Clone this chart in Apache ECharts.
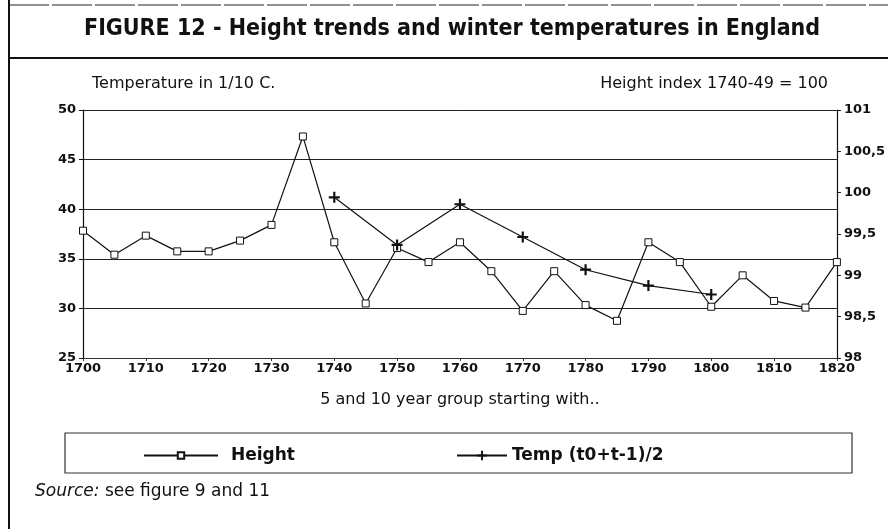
<!DOCTYPE html>
<html>
<head>
<meta charset="utf-8">
<script src="https://cdn.jsdelivr.net/npm/echarts@6/dist/echarts.min.js"></script>
<style>
html,body{margin:0;padding:0;background:#fff;}
#c{width:888px;height:529px;}
</style>
</head>
<body>
<div id="c"></div>
<script>
// ---- data ----
var heightYears = [1700,1705,1710,1715,1720,1725,1730,1735,1740,1745,1750,1755,1760,1765,1770,1775,1780,1785,1790,1795,1800,1805,1810,1815,1820];
var heightIndex = [99.54,99.25,99.48,99.29,99.29,99.42,99.61,100.68,99.40,98.66,99.33,99.16,99.40,99.05,98.57,99.05,98.64,98.45,99.40,99.16,98.62,99.00,98.69,98.61,99.16];
var tempYears = [1740,1750,1760,1770,1780,1790,1800];
var tempValues = [41.2,36.4,40.5,37.2,33.9,32.3,31.4];
var titleText = 'FIGURE 12 - Height trends and winter temperatures in England';
var leftAxisTitle = 'Temperature in 1/10 C.';
var rightAxisTitle = 'Height index 1740-49 = 100';
var xAxisTitle = '5 and 10 year group starting with..';
var seriesNames = ['Height', 'Temp (t0+t-1)/2'];

var heightData = heightYears.map(function(y,i){return [y, heightIndex[i]];});
var tempData = tempYears.map(function(y,i){return [y, tempValues[i]];});

var REG = '"DejaVu Sans", sans-serif';
var BOLD = '"DejaVu Sans", sans-serif';
var PLUS = 'path://M4,0H6V4H10V6H6V10H4V6H0V4H4Z';

var chart = echarts.init(document.getElementById('c'), null, {renderer:'canvas'});
chart.setOption({
  backgroundColor:'#fff',
  animation:false,
  grid:{left:83, right:50, top:110, bottom:171, containLabel:false},
  xAxis:{
    type:'value', min:1700, max:1820, interval:10,
    name:xAxisTitle, nameLocation:'middle', nameGap:34,
    nameTextStyle:{fontFamily:REG, fontSize:16, color:'#111'},
    axisLine:{show:true, lineStyle:{color:'#333', width:1}},
    axisTick:{show:true, length:3, lineStyle:{color:'#333'}},
    axisLabel:{fontFamily:BOLD, fontWeight:'bold', fontSize:13, color:'#111', margin:4,
      formatter:function(v){return String(v);}},
    splitLine:{show:false}
  },
  yAxis:[{
    type:'value', min:25, max:50, interval:5, position:'left',
    axisLine:{show:true, lineStyle:{color:'#111', width:1.2}},
    axisTick:{show:true, length:4, lineStyle:{color:'#111'}},
    axisLabel:{fontFamily:BOLD, fontWeight:'bold', fontSize:13, color:'#111', margin:7},
    splitLine:{show:true, lineStyle:{color:'#222', width:1}}
  },{
    type:'value', min:98, max:101, interval:0.5, position:'right',
    axisLine:{show:true, lineStyle:{color:'#111', width:1.2}},
    axisTick:{show:true, length:4, lineStyle:{color:'#111'}},
    axisLabel:{fontFamily:BOLD, fontWeight:'bold', fontSize:13, color:'#111', margin:7,
      formatter:function(v){return String(v).replace('.', ',');}},
    splitLine:{show:false}
  }],
  legend:[{
    data:[seriesNames[0]], left:138, top:442, itemWidth:74, itemHeight:8, itemGap:0,
    textStyle:{fontFamily:BOLD, fontWeight:'bold', fontSize:17, color:'#111', padding:[0,0,0,8]}
  },{
    data:[seriesNames[1]], left:451, top:442, itemWidth:50, itemHeight:12, itemGap:0,
    textStyle:{fontFamily:BOLD, fontWeight:'bold', fontSize:17, color:'#111', padding:[0,0,0,0]}
  }],
  series:[{
    name:seriesNames[0], type:'line', yAxisIndex:1, data:heightData,
    symbol:'rect', symbolSize:7, showAllSymbol:true,
    lineStyle:{color:'#111', width:1.2},
    itemStyle:{color:'#fff', borderColor:'#111', borderWidth:1}
  },{
    name:seriesNames[1], type:'line', yAxisIndex:0, data:tempData,
    symbol:PLUS, symbolSize:11, showAllSymbol:true,
    lineStyle:{color:'#111', width:1.2},
    itemStyle:{color:'#111', borderWidth:0}
  }],
  graphic:[
    {type:'line', shape:{x1:9, y1:0, x2:9, y2:529}, style:{stroke:'#111', lineWidth:2}},
    {type:'line', shape:{x1:9, y1:5, x2:888, y2:5}, style:{stroke:'#222', lineWidth:1, lineDash:[40,3]}},
    {type:'line', shape:{x1:9, y1:58, x2:888, y2:58}, style:{stroke:'#111', lineWidth:2}},
    {type:'text', left:84, top:18, style:{text:titleText, font:'bold 23px "DejaVu Sans Condensed", "DejaVu Sans", sans-serif', fill:'#111'}},
    {type:'text', left:92, top:76, style:{text:leftAxisTitle, font:'16px '+REG, fill:'#111'}},
    {type:'text', right:60, top:76, style:{text:rightAxisTitle, font:'16px '+REG, fill:'#111'}},
    {type:'rect', shape:{x:65, y:433, width:787, height:40}, style:{fill:'none', stroke:'#333', lineWidth:1.2}, z:-1},
    {type:'text', left:35, top:483, style:{text:'{i|Source:} see figure 9 and 11', font:'17px '+REG, fill:'#111',
      rich:{i:{fontStyle:'italic', fontFamily:'DejaVu Sans', fontSize:17, fill:'#111'}}}}
  ]
});
</script>
</body>
</html>
